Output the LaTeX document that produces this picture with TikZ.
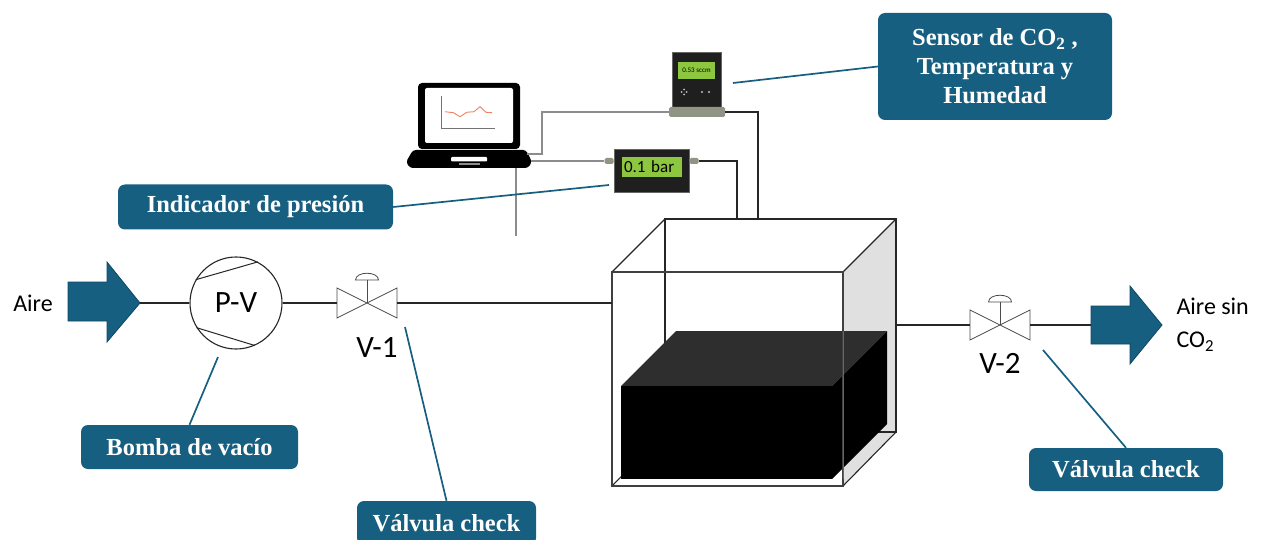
\documentclass[tikz,border=0pt]{standalone}
\usepackage{fontspec}
\setmainfont{Liberation Serif}
\newfontfamily\calib{Carlito}
\definecolor{tealbox}{RGB}{23,95,128}
\definecolor{tealdark}{RGB}{14,72,98}
\definecolor{lcdgreen}{RGB}{141,198,63}
\definecolor{fitgray}{RGB}{143,148,132}
\definecolor{plotred}{RGB}{240,128,100}

\begin{document}
\begin{tikzpicture}[x=1pt,y=-1pt,
  callout/.style={fill=tealbox, rounded corners=7pt, text=white, align=center,
    font=\bfseries\fontsize{24.5}{29}\selectfont, inner sep=0pt},
  lead/.style={draw=tealbox, line width=1.7pt},
  pipe/.style={draw=black!85, line width=1.1pt},
  wire/.style={draw=black!45, line width=1.3pt},
  valve/.style={minimum width=60pt, minimum height=30pt, inner sep=0pt, outer sep=0pt},
  valveline/.style={draw=black!70, line width=0.8pt, fill=white},
  fitting/.style={fill=fitgray, rounded corners=1.5pt, inner sep=0pt},
  sans/.style={font=\calib\fontsize{31}{31}\selectfont},
  bigarrow/.style={fill=tealbox, draw=tealdark, line width=0.8pt}]
\useasboundingbox (0,0) rectangle (1261,540);
\clip (0,0) rectangle (1261,540);

%Inlet and outlet arrows
\draw[bigarrow] (68,282) -- (107,282) -- (107,262) -- (140,303) -- (107,342) -- (107,321) -- (68,321) -- cycle;
\coordinate (ain) at (140,303);
\draw[bigarrow] (1091,306) -- (1130,306) -- (1130,286) -- (1162,325) -- (1130,364) -- (1130,344) -- (1091,344) -- cycle;
\coordinate (aout) at (1091,325);

% Text Node
\node[font=\calib\fontsize{24}{24}\selectfont] (aire) at (33,303) {Aire};
% Text Node
\node[font=\calib\fontsize{24}{33}\selectfont, align=left, anchor=west] (airesin) at (1173,325) {Aire sin\\CO\textsubscript{2}};

%Vacuum pump
\node[circle, draw=black!85, line width=1.1pt, minimum size=92pt, inner sep=0pt, sans] (pv) at (236,303) {P-V};
\draw[black!85, line width=1pt] (pv.150) -- (pv.62);
\draw[black!85, line width=1pt] (pv.212) -- (pv.294);

%Valves
\node[valve] (v1) at (367,303) {};
\node[valve] (v2) at (1000,325) {};
\foreach \v in {v1,v2}{
  \draw[valveline] (\v.north west) -- (\v.south east) -- (\v.north east) -- (\v.south west) -- cycle;
  \draw[valveline] (\v.center) -- ++(0,-23);
  \draw[valveline] ([shift={(-11.5,-23)}]\v.center) .. controls +(0,-9) and +(0,-9) .. ([shift={(11.5,-23)}]\v.center) -- cycle;
}
\node[sans] (v1lbl) at (377,348) {V-1};
\node[sans] (v2lbl) at (1000,363) {V-2};

%Tank
\coordinate (tankin) at (612,303);
\coordinate (tankout) at (896,325);
\coordinate (topa) at (737,219);
\coordinate (topb) at (758,219);
\fill[black!12] (843,272) -- (896,219) -- (896,432) -- (843,486) -- cycle;
\draw[black!85, line width=1.1pt] (665,219) rectangle (896,432);
\draw[black!85, line width=1.1pt] (612,272) -- (665,219) (843,272) -- (896,219) (843,486) -- (896,432) (612,486) -- (665,432);
%Sample block
\fill[black!82] (621,386) -- (676,331) -- (887,331) -- (832,386) -- cycle;
\fill[black] (832,386) -- (887,331) -- (887,424) -- (832,479) -- cycle;
\fill[black] (621,386) rectangle (832,479);
\draw[black!75, line width=1.1pt] (612,272) rectangle (843,486);
\draw[black!60, line width=0.9pt] (843,331) -- (843,479);

%Pipes
\draw[pipe] (ain) -- (pv);
\draw[pipe] (pv) -- (v1);
\draw[pipe] (v1) -- (tankin);
\draw[pipe] (tankout) -- (v2);
\draw[pipe] (v2) -- (aout);

%Laptop
\fill[black, rounded corners=4pt] (418,83) rectangle (520,149);
\fill[white, rounded corners=2pt] (425,88) rectangle (513,143);
\fill[black, rounded corners=3pt] (413,150) -- (526,150) -- (532,162) -- (528,168) -- (410,168) -- (406,162) -- cycle;
\fill[white, rounded corners=1pt] (451,157) rectangle (487,161.5);
\fill[black!45] (459,163) rectangle (480,165.5);
\draw[black!55, line width=0.8pt] (441,96) -- (441,128) -- (495,128);
\draw[plotred, line width=0.9pt] (445,111.7) -- (453.3,112.7) -- (460,116.7) -- (466.7,112.3) -- (474,111.7) -- (480,106.7) -- (486,112.3) -- (492,112.7);
\coordinate (pcport1) at (527,154);
\coordinate (pcport2) at (531,161);
\coordinate (pcdrop) at (516,168);
\coordinate (pcend) at (516,236);

%Pressure indicator
\node[fill=black!88, draw=black!60, minimum width=75pt, minimum height=43pt, inner sep=0pt] (pind) at (651.5,170.5) {};
\node[fill=lcdgreen, minimum width=60pt, minimum height=20pt, inner sep=0pt, text width=56pt,
  font=\calib\fontsize{17}{17}\selectfont] (pinlcd) at (652,167) {0.1 bar};
\node[fitting, minimum width=9pt, minimum height=6pt] (pinL) at (609,161) {};
\node[fitting, minimum width=9pt, minimum height=6pt] (pinR) at (694,161) {};

%CO2 sensor
\node[fill=black!88, draw=black!60, minimum width=49pt, minimum height=56pt, inner sep=0pt] (sens) at (696.5,80) {};
\node[fill=lcdgreen, minimum width=37pt, minimum height=17pt, inner sep=0pt,
  font=\calib\fontsize{7}{7}\selectfont] (senslcd) at (696.5,70.5) {0.53 sccm};
\foreach \dx/\dy in {0/-2.5,0/2.5,-2.5/0,2.5/0}
  \fill[black!25] (684+\dx,92+\dy) circle (1pt);
\fill[black!25] (702,92) circle (1.1pt) (709,92) circle (1.1pt);
\node[fitting, minimum width=56pt, minimum height=10pt] (sbase) at (697,112) {};

%Signal and gas lines
\draw[wire] (pcport1) -- ++(15,0) |- (sbase.west);
\draw[wire] (pcport2) -- (pinL);
\draw[wire] (pcdrop) -- (pcend);
\draw[pipe] (pinR) -| (topa);
\draw[pipe] (sbase.east) -| (topb);

%Callouts
\node[callout, minimum width=234pt, minimum height=107pt] (sensbox) at (995,66.5) {Sensor de CO\textsubscript{2} ,\\Temperatura y\\Humedad};
\node[callout, minimum width=275pt, minimum height=45pt] (presbox) at (255.5,207) {Indicador de presión};
\node[callout, minimum width=217pt, minimum height=44pt] (bombabox) at (189.5,447) {Bomba de vacío};
\node[callout, minimum width=179pt, minimum height=44pt] (v1box) at (446.5,523) {Válvula check};
\node[callout, minimum width=194pt, minimum height=43pt] (v2box) at (1126,469.5) {Válvula check};

\coordinate (sensptr) at (733,83);
\coordinate (presptr) at (609,185);
\coordinate (pvptr) at (218,357);
\coordinate (v1ptr) at (405,327);
\coordinate (v2ptr) at (1043,350);
\draw[lead] (sensptr) -- (sensbox.west);
\draw[lead] (presptr) -- (presbox.east);
\draw[lead] (pvptr) -- (bombabox.north);
\draw[lead] (v1ptr) -- (v1box.north);
\draw[lead] (v2ptr) -- (v2box.north);

\end{tikzpicture}
\end{document}
